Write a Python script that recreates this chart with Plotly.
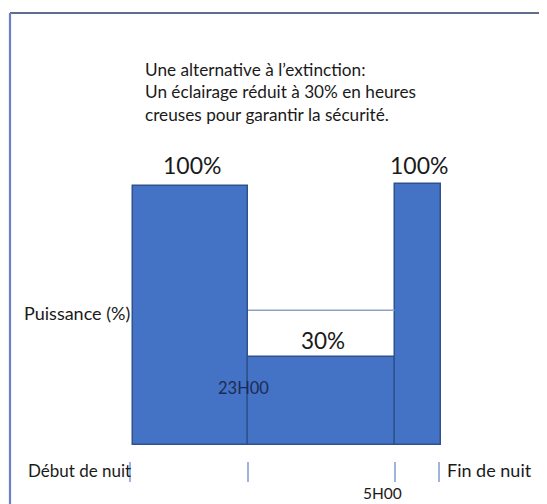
import plotly.graph_objects as go

# ---- data ----
segment_labels = ["Début de nuit", "23H00", "5H00", "Fin de nuit"]
boundaries_h = [0.0, 4.71, 10.71, 12.61]      # hours since start of night
tick_hours = [-0.12, 4.71, 10.71, 12.53]       # tick marks as drawn
power_pct = [100, 34, 100.8]                   # bar heights as drawn (%)
power_text = ["100%", "30%", "100%"]
guide_level = 52                               # thin line between 23H00 and 5H00

OFF = 8                      # browser body margin
W, H = 547 - OFF, 504 - OFF
MB = 43
PH = H - MB
FONT = "Lato"
BLUE = "#4472C4"
EDGE = "#2F528F"
TXT = "#1a1a1a"

centers = [(a + b) / 2 for a, b in zip(boundaries_h[:-1], boundaries_h[1:])]
widths = [b - a for a, b in zip(boundaries_h[:-1], boundaries_h[1:])]

fig = go.Figure()
fig.add_trace(go.Bar(
    x=centers, y=power_pct, width=widths,
    marker=dict(color=BLUE, line=dict(color=EDGE, width=1.5)),
    hoverinfo="skip", showlegend=False,
))
fig.add_trace(go.Scatter(
    x=[boundaries_h[1], boundaries_h[2]], y=[guide_level, guide_level],
    mode="lines", line=dict(color="#8FA2C4", width=1.5),
    hoverinfo="skip", showlegend=False,
))


def px(x, y):
    """page pixel -> paper coords"""
    return (x - OFF) / W, (PH - (y - OFF)) / PH


def label(text, x, y, size=15, color=TXT, xanchor="left", align="left"):
    xp, yp = px(x, y)
    fig.add_annotation(text=text, x=xp, y=yp, xref="paper", yref="paper",
                       showarrow=False, xanchor=xanchor, yanchor="middle",
                       align=align, font=dict(family=FONT, size=size, color=color))


label("Une alternative à l’extinction:<br>Un éclairage réduit à 30% en heures<br>creuses pour garantir la sécurité.",
      143, 92, size=17.2)
label(power_text[0], 192, 165, size=23, xanchor="center")
label(power_text[2], 419, 165, size=23, xanchor="center")
label(power_text[1], 323, 340, size=22.5, xanchor="center")
label("Puissance (%)", 22, 313, size=18)
label(segment_labels[1], 216, 388, size=16.5, color="#1C2B55")
label(segment_labels[0], 26, 470, size=17)
label(segment_labels[3], 445, 470, size=18)
label(segment_labels[2], 361, 493, size=15.5)

# frame lines
top_y = px(0, 13)[1]
left_x = px(10, 0)[0]
fig.add_shape(type="line", xref="paper", yref="paper",
              x0=left_x, x1=1.02, y0=top_y, y1=top_y,
              line=dict(color="#5E6E8C", width=2.2))
fig.add_shape(type="line", xref="paper", yref="paper",
              x0=left_x, x1=left_x, y0=top_y, y1=px(0, 520)[1],
              line=dict(color="#6F80C2", width=2.2))

kx = 24.42
ky = 2.59
x_zero = 133 - OFF
y_zero_top = 186 - OFF
fig.update_layout(
    width=W, height=H,
    margin=dict(l=0, r=0, t=0, b=MB, autoexpand=False),
    paper_bgcolor="white", plot_bgcolor="white",
    bargap=0,
    xaxis=dict(range=[-x_zero / kx, (W - x_zero) / kx], showgrid=False, zeroline=False,
               showline=False, tickvals=tick_hours, ticktext=["", "", "", ""],
               ticks="outside", ticklen=20, tickwidth=1.6, tickcolor="#9FB4DD",
               fixedrange=True),
    yaxis=dict(range=[-16 / ky, 100 + y_zero_top / ky], showgrid=False, zeroline=False,
               showline=False, showticklabels=False, ticks="", fixedrange=True),
    font=dict(family=FONT),
)

fig.write_html("out.html")
